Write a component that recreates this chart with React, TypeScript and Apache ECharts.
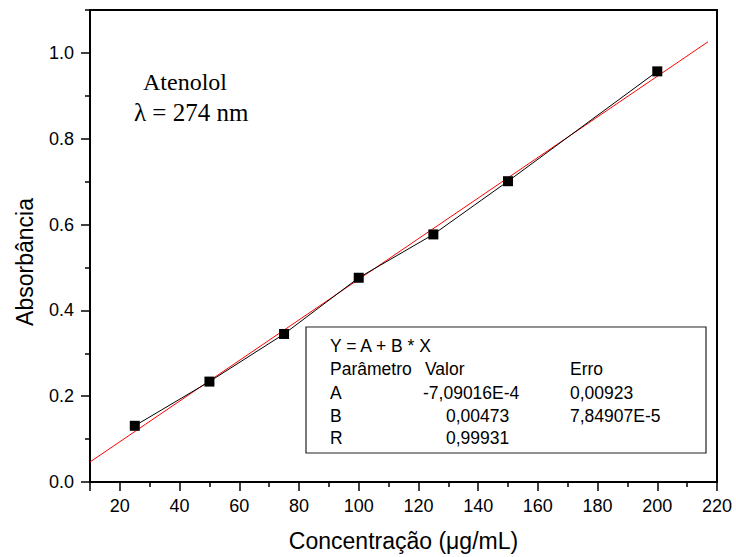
import React, { useEffect, useRef } from "react";
import * as echarts from "echarts";

// Measured data (Concentração in µg/mL vs Absorbância)
const concentrations = [25, 50, 75, 100, 125, 150, 200];
const absorbances = [0.131, 0.234, 0.345, 0.476, 0.577, 0.701, 0.957];

// Linear fit line end points
const fitX = [10, 217];
const fitY = [0.0466, 1.026];

// Axis ticks / labels
const xMajorTicks = [10, 20, 40, 60, 80, 100, 120, 140, 160, 180, 200, 220];
const xLabelValues = [20, 40, 60, 80, 100, 120, 140, 160, 180, 200, 220];
const xMinorTicks = [30, 50, 70, 90, 110, 130, 150, 170, 190, 210];
const yMajorTicks = [0, 0.2, 0.4, 0.6, 0.8, 1.0];
const yMinorTicks = [0.1, 0.3, 0.5, 0.7, 0.9, 1.1];

// Fit parameter table
const fitEquation = "Y = A + B * X";
const paramNames = ["A", "B", "R"];
const paramValues = ["-7,09016E-4", "0,00473", "0,99931"];
const paramErrors = ["0,00923", "7,84907E-5", ""];

const sans = '"Liberation Sans", Arial, sans-serif';
const serif = '"Liberation Serif", "Times New Roman", serif';

export default function App() {
  const ref = useRef<HTMLDivElement>(null);

  useEffect(() => {
    if (!ref.current) return;
    const chart = echarts.init(ref.current, undefined, { renderer: "svg" });

    const axisLineStyle = { color: "#000", width: 2 };
    const tickStyle = { color: "#000", width: 1.5 };
    const tFont = `17.5px ${sans}`;

    const rowY = [393, 416, 438];
    const tableTexts: any[] = [
      { type: "text", x: 330, y: 346, style: { text: fitEquation, font: tFont, fill: "#000", verticalAlign: "middle" } },
      { type: "text", x: 330, y: 369, style: { text: "Parâmetro", font: tFont, fill: "#000", verticalAlign: "middle" } },
      { type: "text", x: 425, y: 369, style: { text: "Valor", font: tFont, fill: "#000", verticalAlign: "middle" } },
      { type: "text", x: 570, y: 369, style: { text: "Erro", font: tFont, fill: "#000", verticalAlign: "middle" } },
    ];
    paramNames.forEach((n, i) => {
      tableTexts.push({ type: "text", x: 330, y: rowY[i], style: { text: n, font: tFont, fill: "#000", verticalAlign: "middle" } });
      tableTexts.push({ type: "text", x: paramValues[i].startsWith("-") ? 423 : 446, y: rowY[i], style: { text: paramValues[i], font: tFont, fill: "#000", verticalAlign: "middle" } });
      if (paramErrors[i]) {
        tableTexts.push({ type: "text", x: 570, y: rowY[i], style: { text: paramErrors[i], font: tFont, fill: "#000", verticalAlign: "middle" } });
      }
    });

    chart.setOption({
      animation: false,
      backgroundColor: "#fff",
      grid: {
        left: 90,
        right: 19,
        top: 10,
        bottom: 73,
        show: true,
        borderColor: "#000",
        borderWidth: 2,
        backgroundColor: "transparent",
      },
      xAxis: [
        {
          type: "value",
          min: 10,
          max: 220,
          position: "bottom",
          name: "Concentração (μg/mL)",
          nameLocation: "middle",
          nameGap: 47,
          nameTextStyle: { fontSize: 23, fontFamily: sans, color: "#000" },
          axisLine: { show: true, lineStyle: axisLineStyle },
          axisTick: { show: true, inside: false, length: 9, customValues: xMajorTicks, lineStyle: tickStyle },
          axisLabel: { show: true, customValues: xLabelValues, margin: 15, fontSize: 18, fontFamily: sans, color: "#000" },
          splitLine: { show: false },
        },
        {
          type: "value",
          min: 10,
          max: 220,
          position: "bottom",
          axisLine: { show: false },
          axisTick: { show: true, inside: false, length: 5, customValues: xMinorTicks, lineStyle: tickStyle },
          axisLabel: { show: false },
          splitLine: { show: false },
        },
      ],
      yAxis: [
        {
          type: "value",
          min: 0,
          max: 1.1,
          position: "left",
          axisLine: { show: true, lineStyle: axisLineStyle },
          axisTick: { show: true, inside: false, length: 9, customValues: yMajorTicks, lineStyle: tickStyle },
          axisLabel: {
            show: true,
            customValues: yMajorTicks,
            margin: 16,
            fontSize: 18,
            fontFamily: sans,
            color: "#000",
            formatter: (v: number) => v.toFixed(1),
          },
          splitLine: { show: false },
        },
        {
          type: "value",
          min: 0,
          max: 1.1,
          position: "left",
          axisLine: { show: false },
          axisTick: { show: true, inside: false, length: 5, customValues: yMinorTicks, lineStyle: tickStyle },
          axisLabel: { show: false },
          splitLine: { show: false },
        },
      ],
      series: [
        {
          type: "line",
          name: "Ajuste linear",
          xAxisIndex: 0,
          yAxisIndex: 0,
          data: fitX.map((x, i) => [x, fitY[i]]),
          symbol: "none",
          lineStyle: { color: "#ff0000", width: 1 },
          z: 2,
        },
        {
          type: "line",
          name: "Atenolol",
          xAxisIndex: 0,
          yAxisIndex: 0,
          data: concentrations.map((x, i) => [x, absorbances[i]]),
          symbol: "rect",
          symbolSize: 10,
          itemStyle: { color: "#000" },
          lineStyle: { color: "#000", width: 1 },
          z: 3,
        },
      ],
      graphic: [
        {
          type: "text",
          x: 25,
          y: 262,
          rotation: Math.PI / 2,
          style: { text: "Absorbância", font: `23px ${sans}`, fill: "#000", align: "center", verticalAlign: "middle" },
        },
        {
          type: "text",
          x: 143,
          y: 82,
          style: { text: "Atenolol", font: `24px ${serif}`, fill: "#000", verticalAlign: "middle" },
        },
        {
          type: "text",
          x: 134,
          y: 112,
          style: { text: "λ = 274 nm", font: `25px ${serif}`, fill: "#000", verticalAlign: "middle" },
        },
        {
          type: "rect",
          shape: { x: 306, y: 327, width: 400, height: 126 },
          style: { fill: "#fff", stroke: "#222", lineWidth: 1.2 },
          z: 10,
        },
        ...tableTexts.map((t) => ({ ...t, z: 11 })),
      ],
    });

    return () => chart.dispose();
  }, []);

  return (
    <div
      ref={ref}
      style={{ position: "fixed", left: 0, top: 0, width: 736, height: 557 }}
    />
  );
}
